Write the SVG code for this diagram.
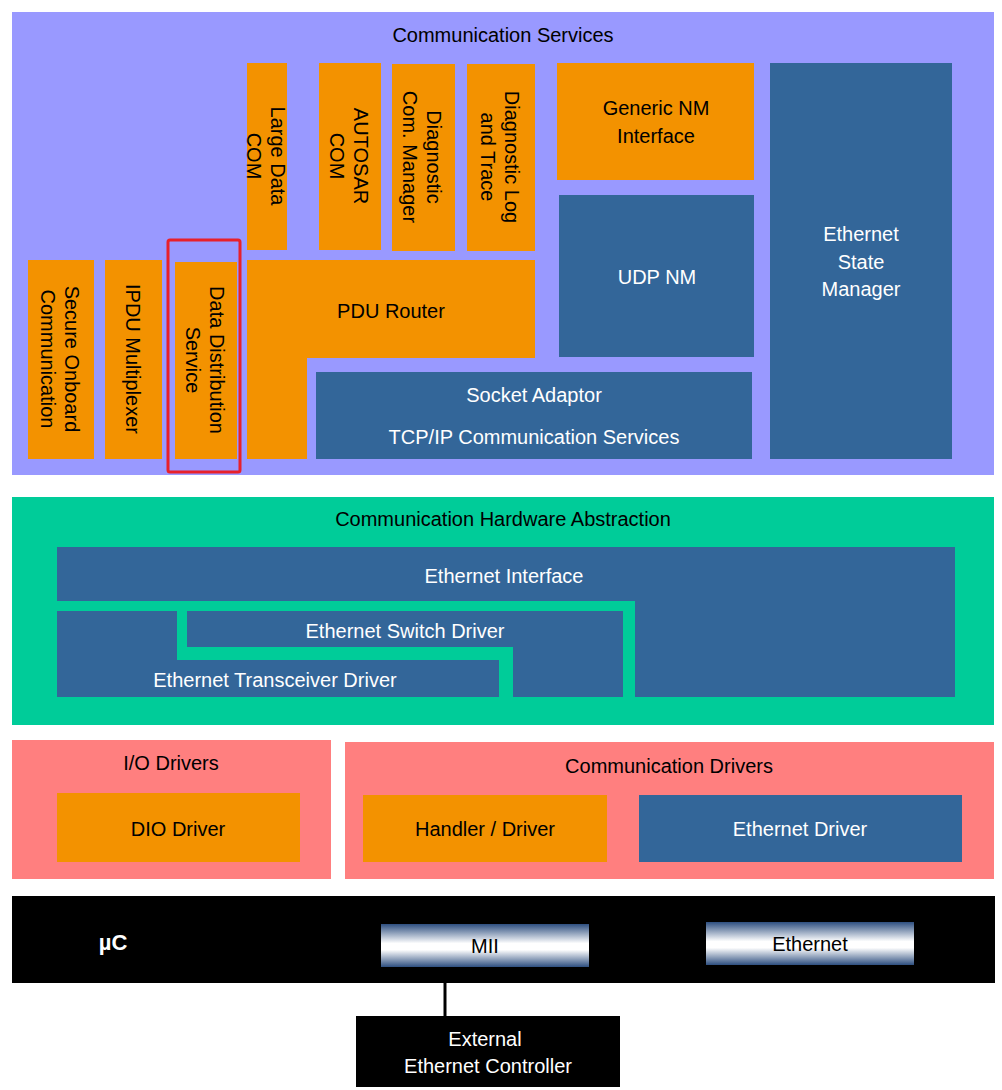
<svg xmlns="http://www.w3.org/2000/svg" width="1002" height="1090" viewBox="0 0 1002 1090">
<defs>
<linearGradient id="g" x1="0" y1="0" x2="0" y2="1">
<stop offset="0" stop-color="#2e4f80"/><stop offset="0.45" stop-color="#ffffff"/><stop offset="0.6" stop-color="#ffffff"/><stop offset="1" stop-color="#2e4f80"/>
</linearGradient>
<style>
text{font-family:"Liberation Sans",Arial,sans-serif;font-size:20px;text-anchor:middle}
.o{fill:#f39200}.b{fill:#336699}.w{fill:#fff}.k{fill:#000}
</style>
</defs>
<rect width="1002" height="1090" fill="#fff"/>
<g id="comm-services"><rect x="12" y="12" width="982" height="463" fill="#9999ff"/><text x="503" y="42">Communication Services</text></g>
<g id="large-data-com"><rect class="o" x="247" y="63" width="40" height="187"/><text transform="translate(267,156) rotate(90)"><tspan x="0" y="-4">Large Data</tspan><tspan x="0" y="20">COM</tspan></text></g>
<g id="autosar-com"><rect class="o" x="319" y="63" width="62" height="187"/><text transform="translate(350,156) rotate(90)"><tspan x="0" y="-4">AUTOSAR</tspan><tspan x="0" y="20">COM</tspan></text></g>
<g id="dcm"><rect class="o" x="392" y="64" width="63" height="187"/><text transform="translate(423,157) rotate(90)"><tspan x="0" y="-4">Diagnostic</tspan><tspan x="0" y="20">Com. Manager</tspan></text></g>
<g id="dlt"><rect class="o" x="467" y="64" width="68" height="187"/><text transform="translate(501,157) rotate(90)"><tspan x="0" y="-4">Diagnostic Log</tspan><tspan x="0" y="20">and Trace</tspan></text></g>
<g id="generic-nm"><rect class="o" x="557" y="63" width="197" height="117"/><text x="656" y="115">Generic NM</text><text x="656" y="143">Interface</text></g>
<g id="udp-nm"><rect class="b" x="559" y="195" width="195" height="162"/><text class="w" x="657" y="284">UDP NM</text></g>
<g id="ethsm"><rect class="b" x="770" y="63" width="182" height="396"/><text class="w" x="861" y="241">Ethernet</text><text class="w" x="861" y="269">State</text><text class="w" x="861" y="296">Manager</text></g>
<g id="secoc"><rect class="o" x="28" y="260" width="66" height="199"/><text transform="translate(61,359) rotate(90)"><tspan x="0" y="-4">Secure Onboard</tspan><tspan x="0" y="20">Communication</tspan></text></g>
<g id="ipdum"><rect class="o" x="105" y="260" width="57" height="199"/><text transform="translate(133,359) rotate(90)"><tspan x="0" y="7">IPDU Multiplexer</tspan></text></g>
<g id="dds"><rect class="o" x="175" y="262" width="62" height="197"/><text transform="translate(206,360) rotate(90)"><tspan x="0" y="-4">Data Distribution</tspan><tspan x="0" y="20">Service</tspan></text><rect x="168" y="240" width="72" height="232" fill="none" stroke="#e8202a" stroke-width="3" rx="2"/></g>
<g id="pdur"><path class="o" d="M247 260H535V358H307V459H247Z"/><text x="391" y="318">PDU Router</text></g>
<g id="soad"><rect class="b" x="316" y="372" width="436" height="87"/><text class="w" x="534" y="402">Socket Adaptor</text><text class="w" x="534" y="444">TCP/IP Communication Services</text></g>
<g id="cha"><rect x="12" y="497" width="982" height="228" fill="#00cc99"/><text x="503" y="526">Communication Hardware Abstraction</text></g>
<g id="ethif"><path class="b" d="M57 547H955V697H635V601H57Z"/><text class="w" x="504" y="583">Ethernet Interface</text></g>
<g id="ethswt"><path class="b" d="M187 611H623V697H513V647H187Z"/><text class="w" x="405" y="638">Ethernet Switch Driver</text></g>
<g id="ethtrcv"><path class="b" d="M57 611H177V660H499V697H57Z"/><text class="w" x="275" y="687">Ethernet Transceiver Driver</text></g>
<g id="io-drivers"><rect x="12" y="740" width="319" height="139" fill="#ff7f7f"/><text x="171" y="770">I/O Drivers</text></g>
<g id="dio"><rect class="o" x="57" y="793" width="243" height="69"/><text x="178" y="836">DIO Driver</text></g>
<g id="comm-drivers"><rect x="345" y="742" width="649" height="137" fill="#ff7f7f"/><text x="669" y="773">Communication Drivers</text></g>
<g id="handler"><rect class="o" x="363" y="795" width="244" height="67"/><text x="485" y="836">Handler / Driver</text></g>
<g id="eth-driver"><rect class="b" x="639" y="795" width="323" height="67"/><text class="w" x="800" y="836">Ethernet Driver</text></g>
<g id="uc"><rect class="k" x="12" y="896" width="983" height="87"/><text class="w" x="113" y="950" style="font-weight:bold;font-size:22px">µC</text></g>
<g id="mii"><rect x="381" y="924" width="208" height="43" fill="url(#g)"/><text x="485" y="953">MII</text></g>
<g id="ethernet"><rect x="706" y="922" width="208" height="43" fill="url(#g)"/><text x="810" y="951">Ethernet</text></g>
<g id="connectors"><line x1="445" y1="967" x2="445" y2="1016" stroke="#000" stroke-width="3"/></g>
<g id="ext-ctrl"><rect class="k" x="356" y="1016" width="264" height="71"/><text class="w" x="485" y="1046">External</text><text class="w" x="488" y="1073">Ethernet Controller</text></g>
</svg>
